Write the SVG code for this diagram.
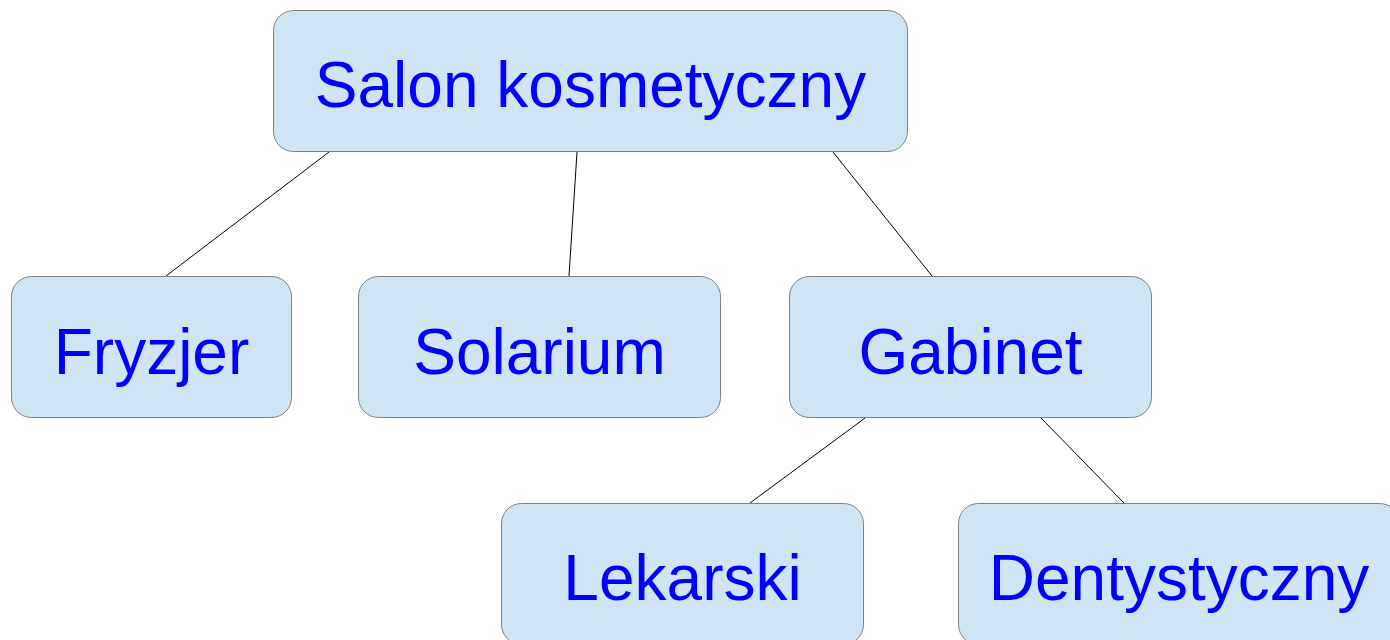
<svg xmlns="http://www.w3.org/2000/svg" width="1390" height="640" viewBox="0 0 1390 640">
  <style>
    .box { fill: #cfe5f3; stroke: #808080; stroke-width: 1; }
    .label { font-family: "Liberation Sans", Arial, sans-serif; font-size: 64px; fill: #0000ff; text-anchor: middle; }
    .link { stroke: #000000; stroke-width: 1; fill: none; }
  </style>
  <rect width="1390" height="640" fill="#ffffff"/>
  <g id="connectors">
    <line class="link" x1="329" y1="152" x2="166" y2="276"/>
    <line class="link" x1="577" y1="152" x2="569" y2="276"/>
    <line class="link" x1="833" y1="152" x2="932" y2="276"/>
    <line class="link" x1="865" y1="418" x2="750" y2="503"/>
    <line class="link" x1="1041" y1="418" x2="1124" y2="503"/>
  </g>
  <g id="salon">
    <rect class="box" x="273.5" y="10.5" width="634" height="141" rx="20"/>
    <text class="label" x="590.5" y="107">Salon kosmetyczny</text>
  </g>
  <g id="fryzjer">
    <rect class="box" x="11.5" y="276.5" width="280" height="141" rx="20"/>
    <text class="label" x="151.5" y="374">Fryzjer</text>
  </g>
  <g id="solarium">
    <rect class="box" x="358.5" y="276.5" width="362" height="141" rx="20"/>
    <text class="label" x="539.5" y="374">Solarium</text>
  </g>
  <g id="gabinet">
    <rect class="box" x="789.5" y="276.5" width="362" height="141" rx="20"/>
    <text class="label" x="970.5" y="374">Gabinet</text>
  </g>
  <g id="lekarski">
    <rect class="box" x="501.5" y="503.5" width="362" height="141" rx="20"/>
    <text class="label" x="682.5" y="600">Lekarski</text>
  </g>
  <g id="dentystyczny">
    <rect class="box" x="958.5" y="503.5" width="441" height="141" rx="20"/>
    <text class="label" x="1179" y="600">Dentystyczny</text>
  </g>
</svg>
